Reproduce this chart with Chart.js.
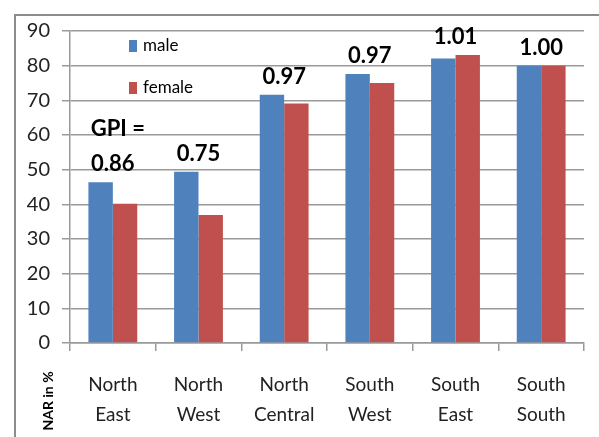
<!DOCTYPE html>
<html>
<head>
<meta charset="utf-8">
<script src="https://cdn.jsdelivr.net/npm/chart.js@4"></script>
<style>
  html, body { margin: 0; padding: 0; background: #fff; overflow: hidden; }
  #wrap { position: relative; width: 599px; height: 437px; }
  #frame { position: absolute; left: 14px; top: 14px; width: 700px; height: 600px; border-left: 2px solid #8c8c8c; border-top: 2px solid #8c8c8c; }
  canvas { position: absolute; left: 0; top: 0; }
</style>
</head>
<body>
<div id="wrap">
  <div id="frame"></div>
  <canvas id="c" width="599" height="437"></canvas>
</div>
<script>
const categories = [["North", "East"], ["North", "West"], ["North", "Central"], ["South", "West"], ["South", "East"], ["South", "South"]];
const maleValues = [46.4, 49.4, 71.6, 77.6, 82.1, 80.0];
const femaleValues = [40.2, 36.9, 69.1, 75.0, 83.1, 80.0];
const gpiLabels = ["0.86", "0.75", "0.97", "0.97", "1.01", "1.00"];
const gpiPrefix = "GPI =";
const seriesNames = ["male", "female"];
const yTicks = [0, 10, 20, 30, 40, 50, 60, 70, 80, 90];
const yAxisLabel = "NAR in %";

const FONT = "Lato, 'DejaVu Sans', sans-serif";

const overlay = {
  id: "overlay",
  afterDatasetsDraw(chart) {
    const ctx = chart.ctx;
    const x = chart.scales.x, y = chart.scales.y;
    ctx.save();
    // GPI labels
    ctx.fillStyle = "#000";
    ctx.font = "bold 22px " + FONT;
    ctx.textAlign = "center";
    ctx.textBaseline = "middle";
    gpiLabels.forEach((lab, i) => {
      const top = Math.max(maleValues[i], femaleValues[i]);
      const px = x.getPixelForValue(i);
      const py = y.getPixelForValue(top) - 18;
      ctx.fillText(lab, px, py);
      if (i === 0) ctx.fillText(gpiPrefix, px + 5, py - 35);
    });
    // legend
    const ds = chart.data.datasets;
    ctx.font = "17px " + FONT;
    ctx.textAlign = "left";
    const legY = [46, 88];
    ds.forEach((d, i) => {
      ctx.fillStyle = d.backgroundColor;
      ctx.fillRect(129, legY[i] - 6, 8, 12);
      ctx.fillStyle = "#000";
      ctx.fillText(d.label, 143, legY[i]);
    });
    // axis label
    ctx.translate(48, 401);
    ctx.rotate(-Math.PI / 2);
    ctx.font = "bold 14px " + FONT;
    ctx.textAlign = "center";
    ctx.fillStyle = "#000";
    ctx.fillText(yAxisLabel, 0, 0);
    ctx.restore();
  }
};

new Chart(document.getElementById("c"), {
  type: "bar",
  data: {
    labels: categories,
    datasets: [
      { label: seriesNames[0], data: maleValues, backgroundColor: "#4F81BD" },
      { label: seriesNames[1], data: femaleValues, backgroundColor: "#C0504D" }
    ]
  },
  options: {
    responsive: false,
    animation: false,
    events: [],
    layout: { padding: { top: 31, right: 15, left: 0, bottom: 0 } },
    datasets: { bar: { categoryPercentage: 0.57, barPercentage: 1.0 } },
    plugins: { legend: { display: false }, tooltip: { enabled: false } },
    scales: {
      x: {
        afterFit(s) { s.height = 94; },
        grid: { display: true, drawOnChartArea: false, offset: true, tickLength: 8, color: "#9a9a9a", lineWidth: 1.5 },
        border: { display: true, color: "#9a9a9a", width: 1.5 },
        ticks: { color: "#222", font: { family: FONT, size: 19, lineHeight: 30 / 19 }, padding: 19, maxRotation: 0, autoSkip: false }
      },
      y: {
        min: 0, max: 90,
        afterFit(s) { s.width = 70; },
        afterBuildTicks(s) { s.ticks = yTicks.map(v => ({ value: v })); },
        grid: { color: "#9a9a9a", lineWidth: 1.5, tickLength: 8 },
        border: { display: true, color: "#9a9a9a", width: 1.5 },
        ticks: { color: "#222", font: { family: FONT, size: 20 }, padding: 12 }
      }
    }
  },
  plugins: [overlay]
});
</script>
</body>
</html>
